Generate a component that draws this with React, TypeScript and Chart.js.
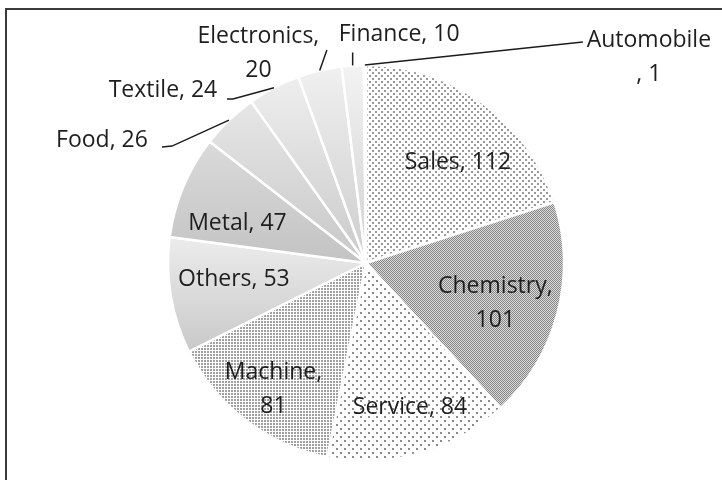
import React, { useEffect, useRef } from 'react';
import { Chart, registerables } from 'chart.js';

Chart.register(...registerables);

// ---------- data ----------
const categories = ['Sales', 'Chemistry', 'Service', 'Machine', 'Others', 'Metal', 'Food', 'Textile', 'Electronics', 'Finance', 'Automobile'];
const values = [112, 101, 84, 81, 53, 47, 26, 24, 20, 10, 1];
const labelWrap = ['none', 'after', 'none', 'after', 'none', 'none', 'none', 'none', 'after', 'none', 'before'];

// ---------- styles ----------
const PIE_RADIUS = 198;
const FONT_SIZE = 23;
const FONT = `${FONT_SIZE}px "Open Sans"`;
const LINE_H = 34;
const TEXT_COLOR = '#1e1e1e';
const LEADER_COLOR = '#1c1c1c';
const FRAME_COLOR = '#3a3a3a';

type Fill = { kind: 'pattern'; name: string } | { kind: 'grad'; from: string; to: string };
const sliceFills: Fill[] = [
  { kind: 'pattern', name: 'sales' },
  { kind: 'pattern', name: 'chem' },
  { kind: 'pattern', name: 'service' },
  { kind: 'pattern', name: 'machine' },
  { kind: 'grad', from: '#ececec', to: '#c9c9c9' },
  { kind: 'grad', from: '#dadada', to: '#c3c3c3' },
  { kind: 'grad', from: '#e6e6e6', to: '#c8c8c8' },
  { kind: 'grad', from: '#eeeeee', to: '#cacaca' },
  { kind: 'grad', from: '#f0f0f0', to: '#cdcdcd' },
  { kind: 'grad', from: '#f3f3f3', to: '#d0d0d0' },
  { kind: 'grad', from: '#f5f5f5', to: '#dddddd' },
];

type Place =
  | { mode: 'in'; f: number; da: number }
  | { mode: 'out'; dx: number; dy: number; leader: number[][] };
const placements: Place[] = [
  { mode: 'in', f: 0.688, da: 6.4 },
  { mode: 'in', f: 0.684, da: 2.6 },
  { mode: 'in', f: 0.765, da: -1.1 },
  { mode: 'in', f: 0.791, da: -1.15 },
  { mode: 'in', f: 0.672, da: 2.6 },
  { mode: 'in', f: 0.68, da: -5.4 },
  { mode: 'out', dx: -127, dy: 20, leader: [[-57, 26], [-67, 27]] },
  { mode: 'out', dx: -111, dy: 2.3, leader: [[-41, 11.3], [-47, 11.3]] },
  { mode: 'out', dx: -61.3, dy: -17, leader: [[7.2, -20.5]] },
  { mode: 'out', dx: 46.5, dy: -31, leader: [[0, -13]] },
  { mode: 'out', dx: 284, dy: -7.8, leader: [[218, -23]] },
];

function labelLines(i: number): string[] {
  const c = categories[i];
  const v = String(values[i]);
  if (labelWrap[i] === 'after') return [c + ',', v];
  if (labelWrap[i] === 'before') return [c, ', ' + v];
  return [c + ', ' + v];
}

function makeTile(size: number, draw: (c: CanvasRenderingContext2D) => void): HTMLCanvasElement {
  const c = document.createElement('canvas');
  c.width = size;
  c.height = size;
  const x = c.getContext('2d')!;
  x.fillStyle = '#ffffff';
  x.fillRect(0, 0, size, size);
  draw(x);
  return c;
}

export default function App() {
  const ref = useRef<HTMLCanvasElement | null>(null);

  useEffect(() => {
    const canvas = ref.current;
    if (!canvas) return;
    const mainCtx = canvas.getContext('2d')!;

    const tiles: Record<string, HTMLCanvasElement> = {
      sales: makeTile(6, (x) => {
        x.fillStyle = '#9a9a9a';
        x.fillRect(0, 0, 2, 2);
        x.fillRect(3, 3, 2, 2);
      }),
      service: makeTile(8, (x) => {
        x.fillStyle = '#8c8c8c';
        x.fillRect(0, 0, 2, 2);
        x.fillRect(4, 4, 2, 2);
      }),
      chem: makeTile(2, (x) => {
        x.fillStyle = '#dcdcdc';
        x.fillRect(0, 0, 2, 2);
        x.fillStyle = '#858585';
        x.fillRect(0, 0, 1, 1);
        x.fillRect(1, 1, 1, 1);
      }),
      machine: makeTile(3, (x) => {
        x.fillStyle = '#a0a0a0';
        x.fillRect(0, 0, 2, 2);
      }),
    };
    const patterns: Record<string, CanvasPattern | null> = {};
    Object.keys(tiles).forEach((k) => {
      patterns[k] = mainCtx.createPattern(tiles[k], 'repeat');
    });

    const total = values.reduce((a, b) => a + b, 0);

    const bg = (ctx: any) => {
      const i = ctx.dataIndex;
      const fill = sliceFills[i];
      if (fill.kind === 'pattern') return patterns[fill.name] || '#ccc';
      const chart = ctx.chart;
      const area = chart.chartArea;
      if (!area) return fill.to;
      const cy = (area.top + area.bottom) / 2;
      let before = 0;
      for (let k = 0; k < i; k++) before += values[k];
      const a0 = (before / total) * Math.PI * 2 - Math.PI / 2;
      const a1 = ((before + values[i]) / total) * Math.PI * 2 - Math.PI / 2;
      const ys = [cy];
      const steps = 24;
      for (let s = 0; s <= steps; s++) {
        const a = a0 + ((a1 - a0) * s) / steps;
        ys.push(cy + PIE_RADIUS * Math.sin(a));
      }
      const y0 = Math.min(...ys);
      const y1 = Math.max(...ys);
      const g = chart.ctx.createLinearGradient(0, y0, 0, y1);
      g.addColorStop(0, fill.from);
      g.addColorStop(1, fill.to);
      return g;
    };

    const labelPlugin = {
      id: 'pieLabels',
      beforeDraw(chart: any) {
        const c = chart.ctx;
        c.save();
        c.fillStyle = FRAME_COLOR;
        c.fillRect(5, 8, chart.width - 5, 2);
        c.fillRect(5, 8, 2, chart.height - 8);
        c.restore();
      },
      afterDatasetsDraw(chart: any) {
        const c = chart.ctx;
        const meta = chart.getDatasetMeta(0);
        c.save();
        c.font = FONT;
        c.fillStyle = TEXT_COLOR;
        c.textAlign = 'center';
        c.textBaseline = 'middle';
        meta.data.forEach((arc: any, i: number) => {
          const p = arc.getProps(['x', 'y', 'startAngle', 'endAngle', 'outerRadius'], true);
          const mid = (p.startAngle + p.endAngle) / 2;
          const pl = placements[i];
          const lines = labelLines(i);
          let tx: number;
          let ty: number;
          if (pl.mode === 'in') {
            const a = mid + (pl.da * Math.PI) / 180;
            tx = p.x + pl.f * p.outerRadius * Math.cos(a);
            ty = p.y + pl.f * p.outerRadius * Math.sin(a);
          } else {
            const ex = p.x + p.outerRadius * Math.cos(mid);
            const ey = p.y + p.outerRadius * Math.sin(mid);
            tx = ex + pl.dx;
            ty = ey + pl.dy;
            c.save();
            c.strokeStyle = LEADER_COLOR;
            c.lineWidth = 1.5;
            c.beginPath();
            c.moveTo(ex, ey);
            pl.leader.forEach((pt) => c.lineTo(ex + pt[0], ey + pt[1]));
            c.stroke();
            c.restore();
          }
          const startY = ty - ((lines.length - 1) * LINE_H) / 2;
          lines.forEach((ln, k) => c.fillText(ln, tx, startY + k * LINE_H));
        });
        c.restore();
      },
    };

    const chart = new Chart(canvas, {
      type: 'pie',
      data: {
        labels: categories,
        datasets: [
          {
            data: values,
            backgroundColor: bg as any,
            borderColor: '#ffffff',
            borderWidth: 2.5,
            radius: PIE_RADIUS,
          } as any,
        ],
      },
      options: {
        responsive: false,
        animation: false,
        layout: { padding: { left: 168, right: 158, top: 65, bottom: 19 } },
        plugins: {
          legend: { display: false },
          tooltip: { enabled: false },
        },
      },
      plugins: [labelPlugin],
    });

    return () => chart.destroy();
  }, []);

  return (
    <div style={{ position: 'fixed', left: 0, top: 0, width: 722, height: 480, background: '#fff' }}>
      <canvas ref={ref} width={722} height={480} style={{ display: 'block' }} />
    </div>
  );
}
